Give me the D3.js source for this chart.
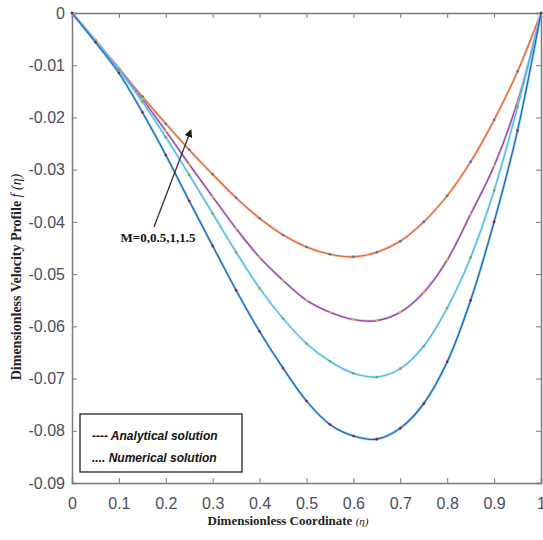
<!DOCTYPE html>
<html>
<head>
<meta charset="utf-8">
<script src="https://cdn.jsdelivr.net/npm/d3@7"></script>
<style>
  html, body { margin: 0; padding: 0; background: #fff; overflow: hidden; }
  svg { display: block; }
  .tick text { font-family: "Liberation Sans Narrow", "Arial Narrow", "Liberation Sans", sans-serif; font-size: 16px; fill: #4a4d5e; }
  .axis path, .axis line { stroke: #7a7a7a; }
</style>
</head>
<body>
<div id="chart"></div>
<script>
// eta samples and velocity profiles
const eta = [0, 0.05, 0.1, 0.15, 0.2, 0.25, 0.3, 0.35, 0.4, 0.45, 0.5, 0.55, 0.6, 0.65, 0.7, 0.75, 0.8, 0.85, 0.9, 0.95, 1];
const fM15 = [0, -0.0052, -0.0106, -0.0160, -0.0212, -0.0262, -0.0309, -0.0354, -0.0393, -0.0425, -0.0448, -0.0462, -0.0467, -0.0458, -0.0437, -0.0400, -0.0350, -0.0285, -0.0205, -0.0112, 0];
const fM1 = [0, -0.0053, -0.0107, -0.0165, -0.0226, -0.0290, -0.0352, -0.0413, -0.0468, -0.0512, -0.0550, -0.0573, -0.0587, -0.0589, -0.0573, -0.0535, -0.0473, -0.0385, -0.0293, -0.0170, 0];
const fM05 = [0, -0.0054, -0.0109, -0.0170, -0.0238, -0.0310, -0.0384, -0.0458, -0.0527, -0.0585, -0.0633, -0.0667, -0.0690, -0.0697, -0.0681, -0.0638, -0.0565, -0.0468, -0.0340, -0.0180, 0];
const fM0 = [0, -0.0056, -0.0115, -0.0190, -0.0272, -0.0360, -0.0446, -0.0531, -0.0610, -0.0680, -0.0743, -0.0788, -0.0810, -0.0816, -0.0795, -0.0748, -0.0668, -0.0550, -0.0400, -0.0225, 0];

const xTicks = [0, 0.1, 0.2, 0.3, 0.4, 0.5, 0.6, 0.7, 0.8, 0.9, 1];
const xTickLabels = ["0", "0.1", "0.2", "0.3", "0.4", "0.5", "0.6", "0.7", "0.8", "0.9", "1"];
const yTicks = [0, -0.01, -0.02, -0.03, -0.04, -0.05, -0.06, -0.07, -0.08, -0.09];
const yTickLabels = ["0", "-0.01", "-0.02", "-0.03", "-0.04", "-0.05", "-0.06", "-0.07", "-0.08", "-0.09"];

const series = [
    {name: "M=1.5", values: fM15, line: "#e2622c", halo: "#f5a684", dot: "#2e7ec2"},
    {name: "M=1", values: fM1, line: "#8a3d9c", halo: "#c9a3d8", dot: "#edb120"},
    {name: "M=0.5", values: fM05, line: "#3fb6ec", halo: "#9edcf6", dot: "#77ac30"},
    {name: "M=0", values: fM0, line: "#0b63b5", halo: "#74b3e4", dot: "#a2142f"}
];

const width = 543, height = 540;
const margin = {top: 13, right: 2, bottom: 57, left: 72};
const innerWidth = width - margin.left - margin.right;
const innerHeight = height - margin.top - margin.bottom;

const svg = d3.select("#chart").append("svg")
    .attr("width", width)
    .attr("height", height);

const chart = svg.append("g")
    .attr("transform", `translate(${margin.left}, ${margin.top})`);

const x = d3.scaleLinear().domain([0, 1]).range([0, innerWidth]);
const y = d3.scaleLinear().domain([0, -0.09]).range([0, innerHeight]);

// axes, ticks pointing inward, box all round
chart.append("g")
    .attr("class", "axis")
    .attr("transform", `translate(0, ${innerHeight})`)
    .call(d3.axisBottom(x).tickValues(xTicks).tickSize(-5).tickPadding(15)
        .tickFormat((d, i) => xTickLabels[i]));

chart.append("g")
    .attr("class", "axis")
    .call(d3.axisLeft(y).tickValues(yTicks).tickSize(-5).tickPadding(7)
        .tickFormat((d, i) => yTickLabels[i]));

chart.append("g")
    .attr("class", "axis mirror")
    .call(d3.axisTop(x).tickValues(xTicks).tickSize(-5));

chart.append("g")
    .attr("class", "axis mirror")
    .attr("transform", `translate(${innerWidth}, 0)`)
    .call(d3.axisRight(y).tickValues(yTicks).tickSize(-5));

// the mirrored axes carry no labels
chart.selectAll(".mirror text").remove();
chart.selectAll(".axis path").attr("stroke-width", 1.5);

// curves
const line = d3.line()
    .x((d, i) => x(eta[i]))
    .y(d => y(d))
    .curve(d3.curveCatmullRom.alpha(0.5));

const groups = chart.selectAll(".curve")
    .data(series)
    .enter().append("g")
    .attr("class", "curve");

groups.append("path")
    .attr("d", d => line(d.values))
    .attr("fill", "none")
    .attr("stroke", d => d.halo)
    .attr("stroke-width", 2.6)
    .attr("opacity", 0.7);

groups.append("path")
    .attr("d", d => line(d.values))
    .attr("fill", "none")
    .attr("stroke", d => d.line)
    .attr("stroke-width", 1.1);

groups.selectAll("circle")
    .data(d => d.values.map(v => ({v: v, c: d.dot})))
    .enter().append("circle")
    .attr("cx", (d, i) => x(eta[i]))
    .attr("cy", d => y(d.v))
    .attr("r", 1.3)
    .attr("fill", d => d.c);

// arrow annotation
svg.append("defs").append("marker")
    .attr("id", "head")
    .attr("viewBox", "0 0 10 10")
    .attr("refX", 2).attr("refY", 5)
    .attr("markerWidth", 8).attr("markerHeight", 8)
    .attr("markerUnits", "userSpaceOnUse")
    .attr("orient", "auto")
    .append("path")
    .attr("d", "M0,0 L10,5 L0,10 z")
    .attr("fill", "#1a1a1a");

svg.append("line")
    .attr("x1", 154).attr("y1", 227)
    .attr("x2", 189).attr("y2", 135)
    .attr("stroke", "#333")
    .attr("stroke-width", 1.3)
    .attr("marker-end", "url(#head)");

svg.append("text")
    .attr("x", 158).attr("y", 242)
    .attr("text-anchor", "middle")
    .style("font-family", "'Liberation Serif', 'Times New Roman', serif")
    .style("font-weight", "bold")
    .style("font-size", "13px")
    .style("fill", "#111")
    .text("M=0,0.5,1,1.5");

// legend box
const legend = svg.append("g").attr("transform", "translate(80, 414)");
legend.append("rect")
    .attr("width", 162).attr("height", 58)
    .attr("fill", "#fff")
    .attr("stroke", "#222")
    .attr("stroke-width", 1.3);

const legendText = ["---- Analytical solution", ".... Numerical solution"];
legend.selectAll("text")
    .data(legendText)
    .enter().append("text")
    .attr("x", 12)
    .attr("y", (d, i) => 26 + i * 22)
    .style("font-family", "'Liberation Sans', Arial, sans-serif")
    .style("font-weight", "bold")
    .style("font-style", "italic")
    .style("font-size", "12px")
    .style("fill", "#111")
    .text(d => d);

// axis titles
svg.append("text")
    .attr("x", 288).attr("y", 525)
    .attr("text-anchor", "middle")
    .style("font-family", "'Liberation Serif', 'Times New Roman', serif")
    .style("font-weight", "bold")
    .style("font-size", "13px")
    .style("fill", "#222")
    .text("Dimensionless Coordinate ")
    .append("tspan")
    .style("font-weight", "normal")
    .style("font-style", "italic")
    .style("font-size", "11px")
    .text("(η)");

const yTitle = svg.append("text")
    .attr("transform", "translate(21, 277) rotate(-90)")
    .attr("text-anchor", "middle")
    .style("font-family", "'Liberation Serif', 'Times New Roman', serif")
    .style("font-weight", "bold")
    .style("font-size", "14px")
    .style("fill", "#222");
yTitle.append("tspan").text("Dimensionless Velocity  Profile  ");
yTitle.append("tspan")
    .style("font-weight", "normal")
    .style("font-style", "italic")
    .text("f (η)");
</script>
</body>
</html>
